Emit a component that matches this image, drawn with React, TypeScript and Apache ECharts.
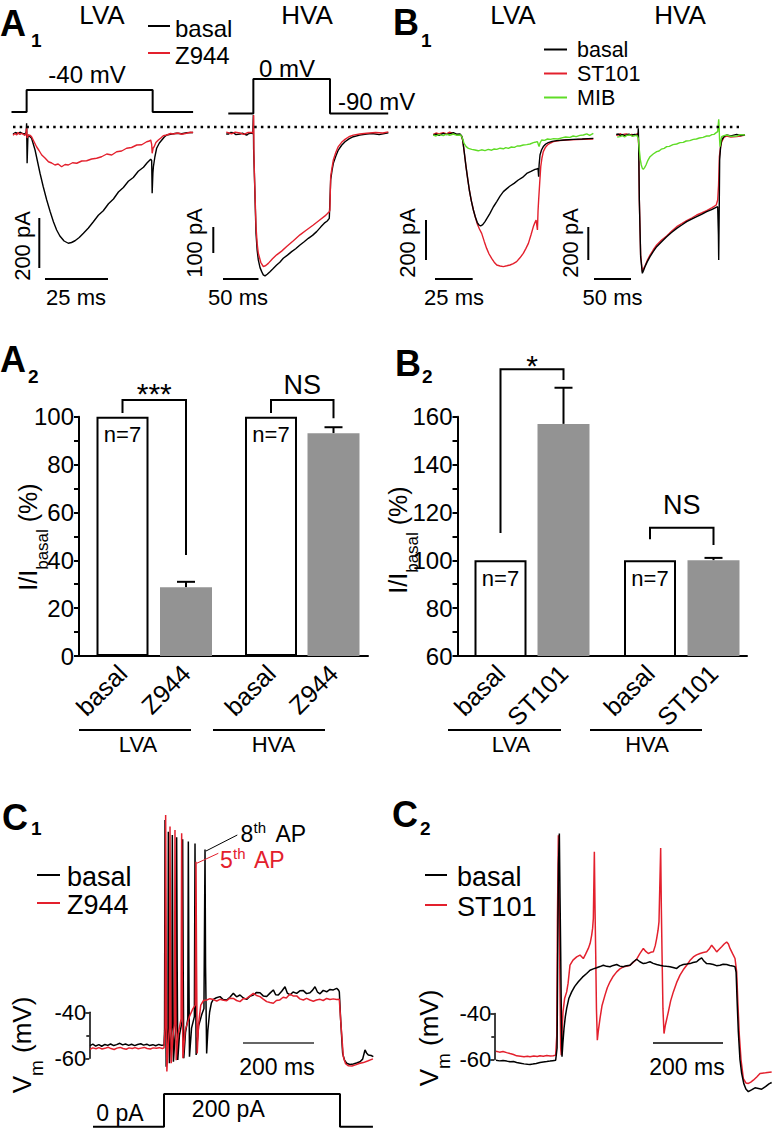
import React, { useEffect, useRef } from "react";
import * as echarts from "echarts";

const FONT = "'Liberation Sans', Arial, Helvetica, sans-serif";
const BLACK = "#000000";
const RED = "#e3202d";
const GREEN = "#5fdc26";
const GRAY = "#939393";

// ---------------- A1 : LVA (ms, pA) ----------------
const a1LvaBasal = [
  [0, -4], [1, 2], [2, -3], [2.8, 3], [3.8, -2], [4.8, -4], [5.3, 2], [5.5, 39], [5.7, -121], [6.0, -20], [6.2, -8],
  [7.5, -21], [8.9, -68], [10.9, -161], [12.2, -215], [13.6, -268], [15, -315], [16.3, -355], [17.6, -388], [18.9, -412],
  [20.6, -432], [22.3, -441], [23.6, -438], [25.0, -431], [26.7, -418], [28.4, -401], [30.4, -380], [32.4, -355],
  [34.4, -329], [36.4, -311], [38.5, -283], [40.5, -264], [42.5, -236], [44.5, -218], [46.5, -193], [48.5, -178],
  [50.5, -153], [52.6, -137], [54, -120], [55.5, -105], [55.9, -110], [56.1, -241], [56.4, -160], [56.6, -135],
  [57.2, -95], [57.9, -61], [59, -40], [60.0, -28], [61, -16], [62.0, -8], [64, -4], [66.0, -1], [68, -3], [70, 1], [72.6, 2],
];
const a1LvaZ944 = [
  [0, -9], [0.8, -2], [1.5, -8], [2.0, 2], [2.8, -6], [3.5, -1], [4.0, -4], [4.8, -10], [5.3, 0], [5.5, 19], [5.7, -20],
  [6.2, -8], [7.0, -10], [7.5, -15], [8.5, -35], [9.5, -55], [10.5, -70], [11.6, -88], [12.9, -100], [14.3, -115],
  [15.6, -120], [16.9, -128], [18.2, -124], [19.6, -135], [21, -126], [22.3, -128], [24, -119], [25.7, -121], [27.7, -112],
  [29.7, -111], [31.7, -104], [33.7, -101], [35.7, -95], [37.8, -84], [39.8, -88], [41.8, -75], [43.8, -72], [45.8, -61],
  [47.8, -58], [49.9, -48], [51.9, -47], [53.9, -35], [55.0, -32], [55.5, -28], [55.9, -45], [56.1, -81], [56.5, -60],
  [56.9, -55], [57.6, -38], [58.6, -28], [59.6, -20], [60.6, -11], [62, -8], [63.5, -2], [64.6, -4], [66.5, 0], [68, -5],
  [69.9, -1], [71.5, 3], [72.6, 2],
];
const a1LvaStepT = [-0.6, 5.5, 5.5, 56.3, 56.3, 72.6];
const a1LvaStepMv = [-90, -90, -40, -40, -90, -90];

// ---------------- A1 : HVA (ms, pA) ----------------
const a1HvaBasal = [
  [-2.5, -4], [0.5, -4], [4, 2], [7.4, 1], [11, -6], [16.7, -4], [20, -1], [25.9, -8], [29, -2], [32.9, 0], [34.5, -2],
  [35.2, 67], [35.6, -60], [36.6, -151], [38.9, -376], [40.5, -440], [42.1, -476], [44.5, -505], [46.8, -520], [49, -532],
  [51.4, -536], [54.5, -530], [58.3, -520], [62.8, -508], [67.6, -495], [72, -485], [76.8, -470], [82.6, -458],
  [88.4, -445], [94, -434], [100, -420], [105.8, -408], [111.6, -395], [117.4, -384], [123.1, -370], [129, -352],
  [134.7, -336], [137.8, -330], [140.7, -320], [141.5, -320], [142.6, -176], [144.5, -140], [146.3, -114], [149.8, -86],
  [153.2, -64], [157.8, -46], [162.5, -33], [168, -22], [174, -14], [183, -8], [192.6, -4], [200, -2], [210, -6], [222.7, 1],
];
const a1HvaZ944 = [
  [-2.5, 3], [0.5, 1], [5, -3], [10, 3], [16.7, 0], [22, -5], [28, 2], [32.9, 2], [34.8, 0], [35.6, 67], [36, -80],
  [36.8, -165], [38.9, -351], [40.5, -415], [42.1, -451], [45.5, -485], [49.1, -501], [52.5, -497], [56, -489],
  [61.8, -472], [67.6, -457], [74.5, -443], [81.5, -426], [90.8, -404], [100, -382], [109, -364], [118.5, -345],
  [126.5, -328], [134.7, -311], [137.8, -303], [140.7, -295], [141.5, -290], [142.6, -164], [144.5, -130], [146.3, -101],
  [149.8, -72], [153.2, -51], [157.8, -35], [162.5, -24], [168, -14], [174, -8], [183, -4], [192.6, -1], [205, 2],
  [215, 0], [222.7, 4],
];
const a1HvaStepT = [0.4, 35.2, 35.2, 141.7, 141.7, 222.5];
const a1HvaStepMv = [-90, -90, 0, 0, -90, -90];

// ---------------- B1 : LVA (ms, pA) ----------------
const b1LvaBasal = [
  [0.2, 0], [2, 4], [4, -2], [6.8, 8], [9, 2], [11, 6], [13.5, 12], [15.5, 4], [17.9, 5], [19.0, -5], [19.7, -25],
  [20.8, -90], [21.9, -158], [23, -218], [24.1, -275], [25.4, -328], [26.8, -375], [28.1, -410], [29.4, -438],
  [30.5, -450], [31.6, -455], [33, -448], [34.5, -433], [36, -414], [37.8, -392], [40, -360], [42.3, -333], [44.5, -306],
  [46.7, -283], [49, -268], [51.1, -255], [53.8, -242], [56.6, -225], [59.4, -212], [62.2, -192], [65, -182],
  [67.7, -172], [69.0, -170], [69.7, -167], [70.1, -208], [70.4, -150], [71.0, -100], [72, -75], [73.2, -58],
  [74.8, -45], [76.5, -38], [79, -32], [82.1, -28], [87, -25], [93.1, -22], [99, -20], [103, -18], [106.4, -17],
];
const b1LvaSt101 = [
  [0.2, 3], [2, 10], [4, 5], [6.8, 12], [9, 6], [11, 14], [13.5, 8], [15.5, 3], [17.9, 0], [19.0, -6], [19.7, -25],
  [20.8, -90], [21.9, -158], [23, -218], [24.1, -275], [25.4, -328], [26.8, -375], [28.1, -412], [29.4, -445],
  [30.8, -470], [32.3, -492], [34, -532], [35.6, -567], [37.2, -595], [38.9, -617], [40.6, -636], [42.3, -650],
  [44.5, -655], [46.7, -658], [49, -654], [51.1, -650], [53.3, -643], [55.5, -633], [57.7, -614], [59.9, -592],
  [61.6, -568], [63.3, -542], [65, -500], [66.6, -458], [67.5, -440], [68.4, -425], [69.3, -475], [69.7, -380],
  [70.1, -325], [70.8, -240], [71.5, -158], [72.3, -115], [73.2, -83], [74.5, -63], [75.9, -50], [77.9, -40],
  [79.9, -33], [84, -28], [88.7, -25], [95, -23], [100, -21], [106.4, -20],
];
const b1LvaMib = [
  [0.2, 0], [2, -5], [4, 3], [6.8, -3], [9, 4], [11, -2], [13.5, 5], [15.5, -1], [18.4, 0], [19.5, -15], [20.6, -42],
  [22, -58], [23.5, -67], [25.7, -72], [27.9, -75], [30, -79], [32.2, -74], [34.5, -78], [36.7, -72], [38.9, -76],
  [40.6, -70], [42.3, -72], [44.5, -66], [46.7, -69], [48.3, -63], [50, -67], [52, -60], [54, -62], [55.8, -55],
  [57.7, -55], [59.9, -50], [62.2, -48], [64.4, -45], [66.6, -38], [68.3, -35], [69.3, -33], [70.0, -50], [70.4, -58],
  [71.0, -40], [72.1, -25], [74, -27], [76, -20], [77.9, -22], [80, -18], [83, -20], [86, -13], [88, -10], [90.9, -12],
  [93, -5], [95, -8], [97.5, -2], [99.8, 0], [102, 6], [104, -2], [106.4, 8],
];

// ---------------- B1 : HVA (ms, pA) ----------------
const b1HvaBasal = [
  [-2.5, 4], [0.4, 6], [3, -2], [6, 3], [8.7, -4], [11.8, 0], [15, 5], [18.5, -3], [21, 2], [23.2, 4], [25.5, -2],
  [27.3, 2], [27.7, 40], [28.2, -50], [29.1, -390], [30.9, -730], [33.2, -830], [35, -812], [36.8, -790], [40, -760],
  [43.7, -730], [48, -700], [52.8, -670], [59.5, -640], [66.4, -610], [73, -585], [80.1, -560], [87, -540], [93.7, -520],
  [100.5, -505], [107.4, -490], [114, -476], [121, -460], [128.5, -446], [134.5, -433], [136, -430], [137.0, -600],
  [137.4, -750], [138.2, -400], [138.7, -150], [140, -70], [141.5, -30], [144.5, -10], [148.3, 0], [154, -5],
  [161.9, 4], [167, -3], [173.3, 0],
];
const b1HvaSt101 = [
  [-2.5, -2], [0.4, 0], [3, 8], [6, 0], [8.7, 5], [11.8, 6], [15, -1], [18.5, 4], [23.2, 0], [25.5, 6], [27.3, 10],
  [27.7, 8], [28.2, -60], [29.1, -390], [30.9, -720], [33.2, -820], [35, -800], [36.8, -786], [40, -752], [43.7, -720],
  [48, -690], [52.8, -660], [59.5, -630], [66.4, -606], [73, -578], [80.1, -550], [87, -532], [93.7, -514],
  [100.5, -498], [107.4, -480], [114, -468], [121, -454], [128.5, -436], [134, -420], [136, -390], [137.2, -300],
  [138.3, -130], [140, -70], [141.5, -40], [144.5, -15], [148.3, -6], [154, -12], [161.9, -10], [167, -6], [173.3, 0],
];
const b1HvaMib = [
  [-1, -12], [2.7, -10], [6, -4], [9, -12], [12, -2], [16.4, 0], [20, -8], [24, -2], [26.4, -6], [27.7, -20],
  [29.1, -90], [30.5, -150], [31.8, -180], [33.2, -200], [34.5, -206], [36.3, -196], [38.2, -180], [40.8, -152],
  [43.7, -130], [48, -114], [52.8, -100], [56, -96], [59, -85], [63, -80], [66.4, -70], [70, -68], [75, -58], [80, -54],
  [84.6, -46], [89, -44], [93, -36], [98, -34], [102.8, -26], [107, -24], [111, -18], [116, -14], [121, -6], [125, -6],
  [128, 2], [131, 4], [134, 14], [136, 20], [137.4, 94], [137.9, 60], [138.5, -20], [139.2, -70], [140.3, -35],
  [141.5, -10], [144.5, -4], [148.3, 0], [154, -8], [161.9, -6], [167, 2], [173.3, 0],
];

// ---------------- A2 / B2 : bar charts (% of basal) ----------------
const a2Categories = ["basal", "Z944"];
const a2LvaMeans = [100, 28.7];
const a2LvaErrors = [0, 2.3];
const a2HvaMeans = [100, 93.1];
const a2HvaErrors = [0, 2.5];
const a2LvaBracket = [101.5, 107, 42.2, 109.5]; // left start, top, right end, label level
const a2HvaBracket = [101.5, 107, 99.4, 113.2];

const b2Categories = ["basal", "ST101"];
const b2LvaMeans = [100, 157];
const b2LvaErrors = [0, 15.1];
const b2HvaMeans = [100, 100];
const b2HvaErrors = [0, 1.0];
const b2LvaBracket = [111.4, 179.8, 175.3, 181.2];
const b2HvaBracket = [108.8, 113.6, 106.4, 123.1];
const nLabel = "n=7";

// ---------------- C1 : Vm (ms, mV) ----------------
const c1Basal = [
  [0, -54.6], [8, -54.0], [16, -54.8], [25, -54.2], [33, -54.9], [42, -54.1], [50, -54.5], [58, -53.9], [67, -54.6],
  [75, -54.2], [84, -53.6], [92, -54.3], [100, -53.9], [109, -54.5], [117, -54.0], [126, -54.6], [134, -54.1],
  [143, -53.8], [151, -54.4], [160, -54.0], [168, -54.6], [177, -54.2], [185, -54.7], [194, -54.1], [202, -54.5],
  [208.5, -54.3], [210, -48], [211.3, 43.5], [213, -20], [214.5, -63.8], [217, -55], [219.5, -47], [220.7, 38.4],
  [222.2, -20], [223.7, -62.3], [227, -53], [230.5, -46], [231.9, 37.0], [233.4, -20], [235, -61.6], [239, -52],
  [242.8, -45], [244.1, 36.0], [245.6, -20], [247.2, -60.9], [252, -50], [259.5, -44], [261, 35.1], [262.5, -20],
  [264.2, -60.1], [269, -49], [275.5, -43], [277, 34.1], [278.5, -20], [280.2, -59.4], [286, -47], [294, -42],
  [295.8, 33.3], [297.3, -20], [299, -58.7], [306, -46], [315, -41], [321, -38.5], [324, 30.7], [325.5, -20],
  [328.6, -58.0], [332, -48], [337, -40], [342, -36], [347.4, -34.5], [356, -33.8], [366.2, -33.3], [375, -34.6],
  [385, -34.8], [394, -33.6], [403.8, -31.9], [413, -33.4], [422.5, -32.6], [432, -33.9], [441.3, -34.5], [450, -33.2],
  [460.1, -32.6], [469, -31.5], [478.9, -31.6], [488, -33.0], [497.7, -33.3], [507, -31.8], [516.4, -30.4],
  [523, -32.5], [530.5, -32.6], [540, -31.0], [549.3, -29.0], [556, -31.8], [563.4, -32.6], [572, -31.3], [582.2, -31.9],
  [591, -30.8], [601, -30.7], [610, -32.0], [619.7, -31.6], [627, -30.5], [633.8, -29.0], [641, -31.4], [647.9, -32.1],
  [657, -30.6], [666.7, -31.2], [676, -30.2], [685.4, -30.4], [694.8, -29.7], [700, -30.5], [702.3, -31.2],
  [706.1, -43.5], [711.7, -58.0], [717, -61], [723, -62.3], [732, -62.8], [741.8, -62.6], [751, -62.2], [760.6, -61.6],
  [768, -60.5], [774.6, -56.5], [779, -57.8], [784, -58.7], [792, -58.9], [798.1, -59.4],
];
const c1Z944 = [
  [0, -56.2], [8, -55.6], [17, -56.0], [25, -55.5], [34, -56.1], [42, -55.8], [51, -55.3], [59, -55.9], [68, -56.3],
  [76, -55.7], [85, -55.4], [93, -55.9], [102, -56.2], [110, -55.6], [119, -55.9], [127, -55.5], [136, -56.0],
  [144, -55.7], [153, -55.4], [161, -55.9], [170, -56.1], [178, -55.6], [187, -55.8], [195, -55.5], [204, -55.9],
  [208.5, -55.6], [211.5, -47], [213.1, 45.7], [214.8, -20], [216.5, -65.9], [220, -55], [224, -47], [225.4, 40.6],
  [227, -20], [228.7, -62.3], [233, -52], [238, -45], [239.4, 39.1], [241, -20], [242.8, -61], [248, -50],
  [256.5, -43], [258.2, 37.7], [259.8, -20], [261.6, -60.1], [268, -48], [280, -42], [290, -38.5], [296.5, -37],
  [298.6, 25.3], [300.2, -20], [302, -58], [306, -45], [312, -37], [320, -35], [328.6, -34.8], [338, -34.2],
  [347.4, -34.6], [357, -35.2], [366.2, -34.5], [376, -34.9], [385, -35.1], [394, -34.0], [403.8, -34.1], [413, -35.0],
  [422.5, -35.5], [432, -34.2], [441.3, -34.1], [450, -33.1], [460.1, -31.9], [469, -32.8], [478.9, -33.3],
  [488, -34.4], [497.7, -35.5], [507, -35.9], [516.4, -36.2], [525, -35.0], [534, -34.8], [544, -33.6], [553, -33.9],
  [563.4, -32.2], [572, -33.0], [582.2, -33.0], [591, -34.3], [601, -34.8], [610, -34.1], [619.7, -34.8], [629, -35.3],
  [638, -34.8], [647.9, -34.5], [657, -35.0], [666.7, -34.1], [676, -34.6], [685.4, -34.3], [694.8, -34.6],
  [702.3, -34.5], [706.1, -43.5], [713.5, -59.4], [720, -62.5], [728, -63.4], [738, -63.5], [748, -63.0], [758, -62.4],
  [770, -62.0], [782, -61.3], [797, -60.4],
];
const c1StepT = [8.5, 208.5, 208.5, 704.2, 704.2, 797];
const c1StepPa = [0, 0, 200, 200, 0, 0];

// ---------------- C2 : Vm (ms, mV) ----------------
const c2Basal = [
  [0, -60.3], [10, -60.6], [20, -60.4], [30.5, -60.7], [40, -61.0], [50, -60.9], [59, -61.3], [70, -61.6], [80, -61.9],
  [90, -62.1], [97.1, -62.2], [105, -62.0], [115, -61.7], [125.7, -61.3], [135, -61.1], [145, -60.9], [154.3, -60.7],
  [162, -60.5], [170.5, -60.3], [174.5, -55], [176.5, -10], [178.5, 25], [181, 38.3], [183, 10], [184.8, -13.2],
  [187, -45], [188.6, -58.8], [191, -53], [194.3, -46.5], [198, -41.5], [201.9, -37.8], [208, -33.5], [216.2, -30.6],
  [225, -28.2], [235.2, -26.2], [247, -24.2], [259, -22.6], [268.6, -21.2], [278, -20.6], [287.6, -20.1], [297, -19.6],
  [306.7, -19.0], [316, -19.5], [325.7, -19.7], [335, -19.1], [344.8, -18.7], [354, -19.4], [363.8, -19.7],
  [373, -19.2], [382.9, -19.0], [392, -17.6], [401.9, -16.4], [411, -17.5], [421, -18.3], [430, -18.0], [440, -17.5],
  [449, -18.2], [459, -18.7], [468, -19.0], [478.1, -19.3], [487, -19.5], [497.1, -19.7], [506, -20.0], [516.2, -20.4],
  [525, -19.3], [535.2, -18.7], [545, -18.5], [554.3, -18.3], [563, -17.8], [573.3, -17.5], [580, -16.6],
  [587.6, -15.8], [594, -17.2], [601.9, -18.3], [611, -18.4], [620.9, -18.7], [630, -19.2], [640, -19.0], [649, -18.6],
  [659, -18.7], [668, -19.1], [676, -19.3], [682.9, -19.7], [686, -22], [689, -35], [692.4, -48], [697, -60],
  [701.9, -66], [708, -70.5], [714, -72.8], [721, -74], [730, -73.2], [740, -72.3], [750, -72.6], [759, -72.9],
  [770, -71.8], [780, -70.6], [787.6, -70],
];
const c2St101 = [
  [0, -56.4], [10, -56.8], [20, -56.5], [30.5, -57.0], [40, -57.4], [50, -57.8], [59, -58.4], [70, -58.6], [80, -58.8],
  [90, -58.6], [97.1, -58.8], [108, -58.5], [118, -58.7], [125.7, -58.4], [135, -58.6], [145, -58.3], [155, -58.5],
  [163.8, -58.4], [170.5, -58.1], [173.5, -50], [175.5, 0], [178.1, 37.5], [180.5, 10], [182.5, -25], [184.8, -55],
  [186.5, -58.1], [189, -47], [191.4, -39.3], [196, -33.5], [201.9, -30.6], [206, -26.8], [211.4, -19.0], [220, -16.8],
  [230.5, -15.4], [240, -14.6], [249.5, -16.1], [256, -14.2], [263.8, -11.7], [269, -9.5], [273.3, -6.0], [276, -3],
  [278.1, 1.3], [281, 30.3], [283, 5], [284.8, -13.2], [287, -38], [289.5, -51.6], [292, -48], [297.1, -42.2],
  [303, -36.5], [311.4, -32.0], [318, -28.8], [325.7, -26.2], [335, -23.8], [344.8, -21.9], [354, -20.6],
  [363.8, -19.7], [373, -19.5], [382.9, -19.0], [392, -17.8], [401.9, -16.4], [411, -14.0], [421, -11.7], [428, -13.0],
  [435.2, -13.9], [442, -13.4], [449.5, -13.2], [455, -10.5], [459, -7.4], [463, -3.8], [465.7, -0.1], [470.5, 32],
  [472.5, 5], [474.3, -13.2], [477, -38], [480, -48.7], [484, -45], [492.4, -39.3], [499, -34.5], [506.7, -30.6],
  [516, -26.6], [525.7, -23.3], [535, -21.0], [544.8, -19.0], [554, -17.0], [563.8, -15.4], [573, -14.5], [582.9, -13.9],
  [592, -13.5], [601.9, -13.2], [609, -12.0], [616.2, -10.3], [623, -11.6], [630.5, -13.2], [637, -12.2], [644.8, -11.0],
  [652, -9.8], [659, -8.9], [664, -9.8], [668.6, -11.7], [676, -14.0], [682.9, -16.1], [687.6, -21.9], [691, -35],
  [695.2, -49.4], [700, -60], [706.7, -68.3], [714, -70.2], [721, -70.4], [728, -69.8], [735.2, -69], [745, -67.6],
  [754.3, -66.1], [770, -65.8], [787.6, -65.4],
];

// ------------------------------------------------------------------
const zip = (a: number[], b: number[]) => a.map((v, i) => [v, b[i]]);

function buildOption() {
  const grids: any[] = [];
  const xAxes: any[] = [];
  const yAxes: any[] = [];
  const series: any[] = [];
  const g: any[] = [];

  const traceGrid = (left: number, top: number, width: number, height: number, x0: number, x1: number, y0: number, y1: number) => {
    const i = grids.length;
    grids.push({ left, top, width, height });
    xAxes.push({ gridIndex: i, type: "value", min: x0, max: x1, show: false });
    yAxes.push({ gridIndex: i, type: "value", min: y0, max: y1, show: false });
    return i;
  };
  const line = (gi: number, data: any[], color: string, width = 1.4) => {
    series.push({
      type: "line", xAxisIndex: gi, yAxisIndex: gi, data, showSymbol: false, symbol: "none",
      lineStyle: { color, width }, silent: true, animation: false,
    });
  };

  // A1
  const gA1L = traceGrid(10.5, 103, 182.6, 180, -1, 72.6, -600, 120);
  line(gA1L, a1LvaBasal, BLACK);
  line(gA1L, a1LvaZ944, RED);
  const gA1Ls = traceGrid(10.5, 85.6, 182.6, 30.8, -1, 72.6, -100, -30);
  line(gA1Ls, zip(a1LvaStepT, a1LvaStepMv), BLACK, 2);
  const gA1H = traceGrid(225.84, 101, 164.16, 181.3, -3, 225, -560, 120);
  line(gA1H, a1HvaBasal, BLACK);
  line(gA1H, a1HvaZ944, RED);
  const gA1Hs = traceGrid(225.84, 75.2, 164.16, 42.1, -3, 225, -100, 10);
  line(gA1Hs, zip(a1HvaStepT, a1HvaStepMv), BLACK, 2);

  // B1
  const gB1L = traceGrid(431.5, 105, 163.5, 190, -1, 107.5, -800, 150);
  line(gB1L, b1LvaSt101, RED);
  line(gB1L, b1LvaBasal, BLACK);
  line(gB1L, b1LvaMib, GREEN);
  const gB1H = traceGrid(615.8, 110, 131.2, 175, -3, 176, -900, 150);
  line(gB1H, b1HvaSt101, RED);
  line(gB1H, b1HvaBasal, BLACK);
  line(gB1H, b1HvaMib, GREEN);

  // Bar charts
  const barMain = (left: number, top: number, width: number, height: number, y0: number, y1: number) => {
    const i = grids.length;
    grids.push({ left, top, width, height });
    xAxes.push({
      gridIndex: i, type: "value", min: 0, max: 1,
      axisLine: { show: true, onZero: false, lineStyle: { color: BLACK, width: 2 } },
      axisTick: { show: false }, axisLabel: { show: false }, splitLine: { show: false },
    });
    yAxes.push({
      gridIndex: i, type: "value", min: y0, max: y1, interval: 20,
      axisLine: { show: true, lineStyle: { color: BLACK, width: 2 } },
      axisTick: { show: true, inside: false, length: 5, lineStyle: { color: BLACK, width: 2 } },
      minorTick: { show: true, splitNumber: 2, length: 5, lineStyle: { color: BLACK, width: 2 } },
      axisLabel: { fontSize: 24, color: BLACK, fontFamily: FONT, margin: 5 },
      splitLine: { show: false },
    });
  };
  const barPair = (
    left: number, top: number, width: number, height: number, y0: number, y1: number,
    cats: string[], means: number[], errs: number[], bracket: number[], bracketText: string, bracketFont: number,
  ) => {
    const i = grids.length;
    grids.push({ left, top, width, height });
    xAxes.push({
      gridIndex: i, type: "category", data: cats,
      axisLine: { show: false }, axisTick: { show: false },
      axisLabel: { fontSize: 25, color: BLACK, fontFamily: FONT, rotate: 45, margin: 13, interval: 0 },
    });
    yAxes.push({ gridIndex: i, type: "value", min: y0, max: y1, show: false });
    series.push({
      type: "bar", xAxisIndex: i, yAxisIndex: i, barWidth: 52, silent: true,
      data: means.map((v, k) =>
        k === 0
          ? {
              value: v,
              itemStyle: { color: "#ffffff", borderColor: BLACK, borderWidth: 2 },
              label: { show: true, position: "insideTop", distance: 7, formatter: nLabel, fontSize: 22, color: BLACK, fontFamily: FONT },
            }
          : { value: v, itemStyle: { color: GRAY } },
      ),
    });
    series.push({
      type: "custom", xAxisIndex: i, yAxisIndex: i, silent: true,
      data: means.map((m, k) => [k, m, errs[k]]),
      renderItem: (_p: any, api: any) => {
        const k = api.value(0);
        const m = api.value(1);
        const e = api.value(2);
        if (!e) return null;
        const p0 = api.coord([k, m]);
        const p1 = api.coord([k, m + e]);
        return {
          type: "group",
          children: [
            { type: "line", shape: { x1: p0[0], y1: p0[1], x2: p1[0], y2: p1[1] }, style: { stroke: BLACK, lineWidth: 2 } },
            { type: "line", shape: { x1: p1[0] - 9, y1: p1[1], x2: p1[0] + 9, y2: p1[1] }, style: { stroke: BLACK, lineWidth: 2 } },
          ],
        };
      },
    });
    series.push({
      type: "custom", xAxisIndex: i, yAxisIndex: i, silent: true,
      data: [[0, bracket[1], bracket[0], bracket[2], bracket[3]]],
      renderItem: (_p: any, api: any) => {
        const top = api.value(1);
        const a = api.coord([0, api.value(2)]);
        const b = api.coord([0, top]);
        const c = api.coord([1, top]);
        const d = api.coord([1, api.value(3)]);
        const lab = api.coord([0, api.value(4)]);
        return {
          type: "group",
          children: [
            { type: "polyline", shape: { points: [a, b, c, d] }, style: { stroke: BLACK, lineWidth: 2, fill: "none" } },
            {
              type: "text", x: (b[0] + c[0]) / 2, y: lab[1],
              style: { text: bracketText, fontSize: bracketFont, fontFamily: FONT, fill: BLACK, align: "center", verticalAlign: "middle" },
            },
          ],
        };
      },
    });
  };

  barMain(79, 416.7, 289, 239.3, 0, 100);
  barPair(90.75, 416.7, 127, 239.3, 0, 100, a2Categories, a2LvaMeans, a2LvaErrors, a2LvaBracket, "***", 30);
  barPair(239.75, 416.7, 125, 239.3, 0, 100, a2Categories, a2HvaMeans, a2HvaErrors, a2HvaBracket, "NS", 27);
  barMain(457.5, 416.7, 289.5, 239.3, 60, 160);
  barPair(469, 416.7, 126, 239.3, 60, 160, b2Categories, b2LvaMeans, b2LvaErrors, b2LvaBracket, "*", 30);
  barPair(618.25, 416.7, 127, 239.3, 60, 160, b2Categories, b2HvaMeans, b2HvaErrors, b2HvaBracket, "NS", 27);

  // C1
  const gC1 = traceGrid(90, 805, 284, 276, 0, 800, -70, 50);
  line(gC1, c1Basal, BLACK, 1.5);
  line(gC1, c1Z944, RED, 1.5);
  const gC1s = traceGrid(90, 1090.7, 284, 39.6, 0, 800, -20, 220);
  line(gC1s, zip(c1StepT, c1StepPa), BLACK, 2);
  // C2
  const gC2 = traceGrid(496, 806.5, 276.5, 299, 0, 790, -80, 50);
  line(gC2, c2St101, RED, 1.5);
  line(gC2, c2Basal, BLACK, 1.5);

  // Vm scale axes
  const vmAxis = (left: number, top: number) => {
    const i = grids.length;
    grids.push({ left, top, width: 10, height: 46 });
    xAxes.push({ gridIndex: i, type: "value", min: 0, max: 1, show: false });
    yAxes.push({
      gridIndex: i, type: "value", min: -60, max: -40, interval: 20,
      axisLine: { show: true, lineStyle: { color: BLACK, width: 1.5 } },
      axisTick: { show: true, length: 4, lineStyle: { color: BLACK, width: 1.5 } },
      minorTick: { show: true, splitNumber: 2, length: 3, lineStyle: { color: BLACK, width: 1.5 } },
      axisLabel: { fontSize: 22, color: BLACK, fontFamily: FONT, margin: 3 },
      splitLine: { show: false },
    });
  };
  vmAxis(89.3, 1012.3);
  vmAxis(494.3, 1013.5);

  // ---------- graphic annotations ----------
  const T = (x: number, y: number, text: string, size: number, o: any = {}) => {
    g.push({
      type: "text", x, y, rotation: o.rot || 0, silent: true, z: 20,
      style: {
        text, fill: o.color || BLACK, fontSize: size, fontFamily: FONT, fontWeight: o.bold ? "bold" : "normal",
        align: o.align || "center", verticalAlign: "middle", rich: o.rich,
      },
    });
  };
  const L = (x1: number, y1: number, x2: number, y2: number, color = BLACK, w = 2, dash?: number[]) => {
    g.push({
      type: "line", silent: true, z: 20, shape: { x1, y1, x2, y2 },
      style: { stroke: color, lineWidth: w, lineDash: dash },
    });
  };
  const letter = (x: number, y: number, ch: string, sx: number, sy: number, sub: string) => {
    T(x, y, ch, 36, { bold: true, align: "left" });
    T(sx, sy, sub, 19, { bold: true, align: "left" });
  };

  letter(0, 23, "A", 31, 40, "1");
  letter(393, 22, "B", 421, 40, "1");
  letter(0, 359, "A", 28, 376, "2");
  letter(395, 363, "B", 422, 376, "2");
  letter(2, 817, "C", 31, 828, "1");
  letter(392, 814, "C", 420, 828, "2");

  T(102, 15, "LVA", 26);
  T(307, 15, "HVA", 26);
  T(513, 15, "LVA", 26);
  T(680, 15, "HVA", 26);

  // A1 legend & labels
  L(148, 26, 170, 26, BLACK);
  L(148, 53, 170, 53, RED);
  T(175, 28, "basal", 24, { align: "left" });
  T(175, 55, "Z944", 24, { align: "left" });
  T(87, 74, "-40 mV", 24);
  T(287, 68, "0 mV", 24);
  T(338, 101, "-90 mV", 24, { align: "left" });
  // dotted zero line
  L(13, 127, 739, 127, BLACK, 2.5, [2.5, 4.2]);

  // scale bars
  L(39.3, 218, 39.3, 268);
  L(45, 279, 108, 279);
  T(22, 246, "200 pA", 22, { rot: Math.PI / 2 });
  T(76, 297, "25 ms", 22);
  L(213.3, 227, 213.3, 253);
  L(223, 279, 258.5, 279);
  T(194, 243, "100 pA", 22, { rot: Math.PI / 2 });
  T(238, 297, "50 ms", 22);
  L(426, 220, 426, 260);
  L(435, 279, 472.7, 279);
  T(407, 243, "200 pA", 22, { rot: Math.PI / 2 });
  T(454, 297, "25 ms", 22);
  L(588.3, 227, 588.3, 260);
  L(594, 279, 631, 279);
  T(570, 243, "200 pA", 22, { rot: Math.PI / 2 });
  T(612.5, 297, "50 ms", 22);

  // B1 legend
  L(544, 49.5, 567, 49.5, BLACK);
  L(544, 73.5, 567, 73.5, RED);
  L(544, 97.5, 567, 97.5, GREEN);
  T(577, 49.5, "basal", 21.5, { align: "left" });
  T(577, 73.5, "ST101", 21.5, { align: "left" });
  T(577, 97.5, "MIB", 21.5, { align: "left" });

  // y titles of bar charts
  const ibasalRich = {
    m: { fontSize: 25, fontFamily: FONT, lineHeight: 25, verticalAlign: "top", fill: BLACK },
    s: { fontSize: 17, fontFamily: FONT, lineHeight: 17, verticalAlign: "top", padding: [18, 0, 0, 0], fill: BLACK },
  };
  T(28, 537, "{m|I/I}{s|basal}{m| (%)}", 25, { rot: Math.PI / 2, rich: ibasalRich });
  T(398, 540, "{m|I/I}{s|basal}{m| (%)}", 25, { rot: Math.PI / 2, rich: ibasalRich });

  // group underlines
  L(79, 730, 191, 730);
  T(138, 744, "LVA", 22);
  L(213, 730, 325, 730);
  T(273.5, 744, "HVA", 22);
  L(448, 730, 561, 730);
  T(511, 744, "LVA", 22);
  L(590, 730, 702, 730);
  T(647, 744, "HVA", 22);

  // C1 annotations
  L(37, 875, 60, 875, BLACK);
  L(37, 903, 60, 903, RED);
  T(67, 877, "basal", 27, { align: "left" });
  T(67, 905, "Z944", 27, { align: "left" });
  T(240.5, 834, "8", 23, { align: "left" });
  T(253.5, 827, "th", 15, { align: "left" });
  T(275.5, 834, "AP", 23, { align: "left" });
  L(206, 851, 237.3, 835, BLACK, 1);
  T(220, 860, "5", 23, { align: "left", color: RED });
  T(233, 853, "th", 15, { align: "left", color: RED });
  T(254, 860, "AP", 23, { align: "left", color: RED });
  L(196.7, 863.3, 218.3, 853.3, RED, 1);
  L(243, 1043, 314, 1043, "#333", 1.5);
  T(277, 1067, "200 ms", 23);
  T(120, 1113, "0 pA", 23);
  T(228.3, 1109, "200 pA", 23);
  const vmRich = {
    m: { fontSize: 26, fontFamily: FONT, lineHeight: 26, verticalAlign: "top", fill: BLACK },
    s: { fontSize: 19, fontFamily: FONT, lineHeight: 19, verticalAlign: "top", padding: [18, 0, 0, 0], fill: BLACK },
  };
  T(22, 1045, "{m|V}{s|m}{m| (mV)}", 26, { rot: Math.PI / 2, rich: vmRich });

  // C2 annotations
  L(425, 875, 447, 875, BLACK);
  L(425, 905, 447, 905, RED);
  T(457, 877, "basal", 27, { align: "left" });
  T(457, 907, "ST101", 27, { align: "left" });
  L(653, 1043, 723, 1043, BLACK, 1.5);
  T(687, 1067, "200 ms", 23);
  T(429, 1038, "{m|V}{s|m}{m| (mV)}", 26, { rot: Math.PI / 2, rich: vmRich });

  return {
    animation: false,
    backgroundColor: "#ffffff",
    textStyle: { fontFamily: FONT },
    grid: grids,
    xAxis: xAxes,
    yAxis: yAxes,
    series,
    graphic: g,
  };
}

export default function App() {
  const ref = useRef<HTMLDivElement>(null);
  useEffect(() => {
    if (!ref.current) return;
    const chart = echarts.init(ref.current, null, { renderer: "svg" });
    chart.setOption(buildOption() as any);
    return () => chart.dispose();
  }, []);
  return (
    <div
      ref={ref}
      style={{ position: "absolute", left: 0, top: 0, width: 773, height: 1130, background: "#fff" }}
    />
  );
}
